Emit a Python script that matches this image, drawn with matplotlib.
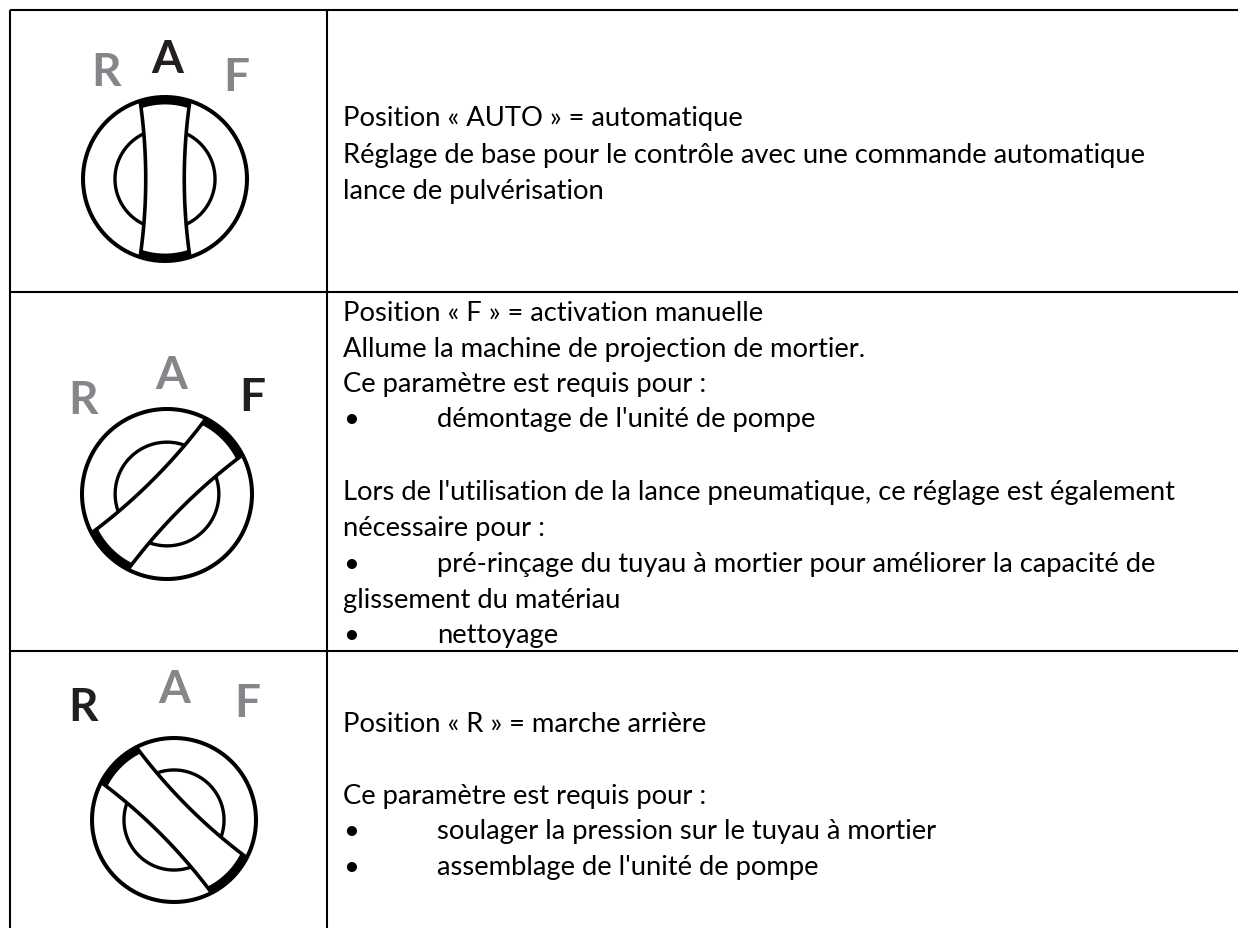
import numpy as np
import matplotlib
matplotlib.use("Agg")
import matplotlib.pyplot as plt

W = 1238
H = 929

# table grid (pixels)
col_x = [10, 327]
row_y = [11, 293, 652]

text_x = 343
bullet_x = 343
bullet_text_x = 437

# baseline, string
plain_text = [
    (126, "Position « AUTO » = automatique"),
    (163, "Réglage de base pour le contrôle avec une commande automatique"),
    (199, "lance de pulvérisation"),
    (321, "Position « F » = activation manuelle"),
    (357, "Allume la machine de projection de mortier."),
    (392, "Ce paramètre est requis pour :"),
    (500, "Lors de l'utilisation de la lance pneumatique, ce réglage est également"),
    (536, "nécessaire pour :"),
    (608, "glissement du matériau"),
    (732, "Position « R » = marche arrière"),
    (804, "Ce paramètre est requis pour :"),
]
bullet_text = [
    (427, "démontage de l'unité de pompe"),
    (572, "pré-rinçage du tuyau à mortier pour améliorer la capacité de"),
    (643, "nettoyage"),
    (839, "soulager la pression sur le tuyau à mortier"),
    (875, "assemblage de l'unité de pompe"),
]

# switch dials: centre x, centre y, radius, knob angle (deg, clockwise from up)
dial_cx = [165, 167, 174]
dial_cy = [180, 495, 821]
dial_r = [82, 85, 82]
dial_angle = [0, 45, -45]

letters = ["R", "A", "F"]
letter_x = [[106, 167, 236], [83, 171, 252], [83, 174, 247]]
letter_y = [[73, 60, 78], [401, 376, 398], [708, 690, 704]]
active = [1, 2, 0]

GREY = "#85868a"
DARK = "#231f20"
TEXT_FONT = "Lato"
TEXT_SIZE = 19.7

fig = plt.figure(figsize=(W / 100, H / 100), dpi=100)
ax = fig.add_axes([0, 0, 1, 1])
ax.set_xlim(0, W)
ax.set_ylim(H, 0)
ax.axis("off")

# grid, no right border: the rules run off the page
for x in col_x:
    ax.plot([x, x], [row_y[0], H], color="black", lw=1.5, solid_capstyle="butt")
for y in row_y:
    ax.plot([col_x[0], W], [y, y], color="black", lw=1.5, solid_capstyle="butt")

# text
for y, s in plain_text:
    ax.text(text_x, y, s, fontsize=TEXT_SIZE, family=TEXT_FONT, va="baseline", ha="left", color="black")
for y, s in bullet_text:
    ax.text(bullet_x, y, "•", fontsize=TEXT_SIZE, family=TEXT_FONT, va="baseline", ha="left", color="black")
    ax.text(bullet_text_x, y, s, fontsize=TEXT_SIZE, family=TEXT_FONT, va="baseline", ha="left", color="black")


def rot(px, py, cx, cy, a):
    a = np.radians(a)
    return (cx + px * np.cos(a) - py * np.sin(a), cy + px * np.sin(a) + py * np.cos(a))


def draw_dial(cx, cy, r, a):
    t = np.linspace(0, 2 * np.pi, 300)
    ax.plot(cx + r * np.cos(t), cy + r * np.sin(t), color="black", lw=2.9)
    # inner circle, broken by the knob
    ri = r * 0.61
    half = r * 0.26
    s = np.arcsin(half / ri)
    for t0, t1 in [(s, np.pi - s), (np.pi + s, 2 * np.pi - s)]:
        tt = np.linspace(t0, t1, 80)
        X, Y = rot(ri * np.sin(tt), ri * np.cos(tt), cx, cy, a)
        ax.plot(X, Y, color="black", lw=2.4, solid_capstyle="butt")
    # knob sides, slightly waisted
    yy = np.linspace(-0.93 * r, 0.93 * r, 60)
    wid = r * (0.235 + 0.065 * (yy / r) ** 2 / 0.86)
    for sgn in (-1, 1):
        X, Y = rot(sgn * wid, yy, cx, cy, a)
        ax.plot(X, Y, color="black", lw=2.6)
    # thick caps on the rim
    half_cap = np.arcsin(0.31)
    for base in (-np.pi / 2, np.pi / 2):
        tt = np.linspace(base - half_cap, base + half_cap, 40)
        X, Y = rot(r * 0.96 * np.cos(tt), r * 0.96 * np.sin(tt), cx, cy, a)
        ax.plot(X, Y, color="black", lw=6, solid_capstyle="butt")


for i in range(3):
    draw_dial(dial_cx[i], dial_cy[i], dial_r[i], dial_angle[i])
    for j, ch in enumerate(letters):
        col = DARK if j == active[i] else GREY
        ax.text(letter_x[i][j], letter_y[i][j], ch, fontsize=33, family="Lato", weight="bold",
                color=col, ha="center", va="center")

fig.savefig("out.png", dpi=100)
